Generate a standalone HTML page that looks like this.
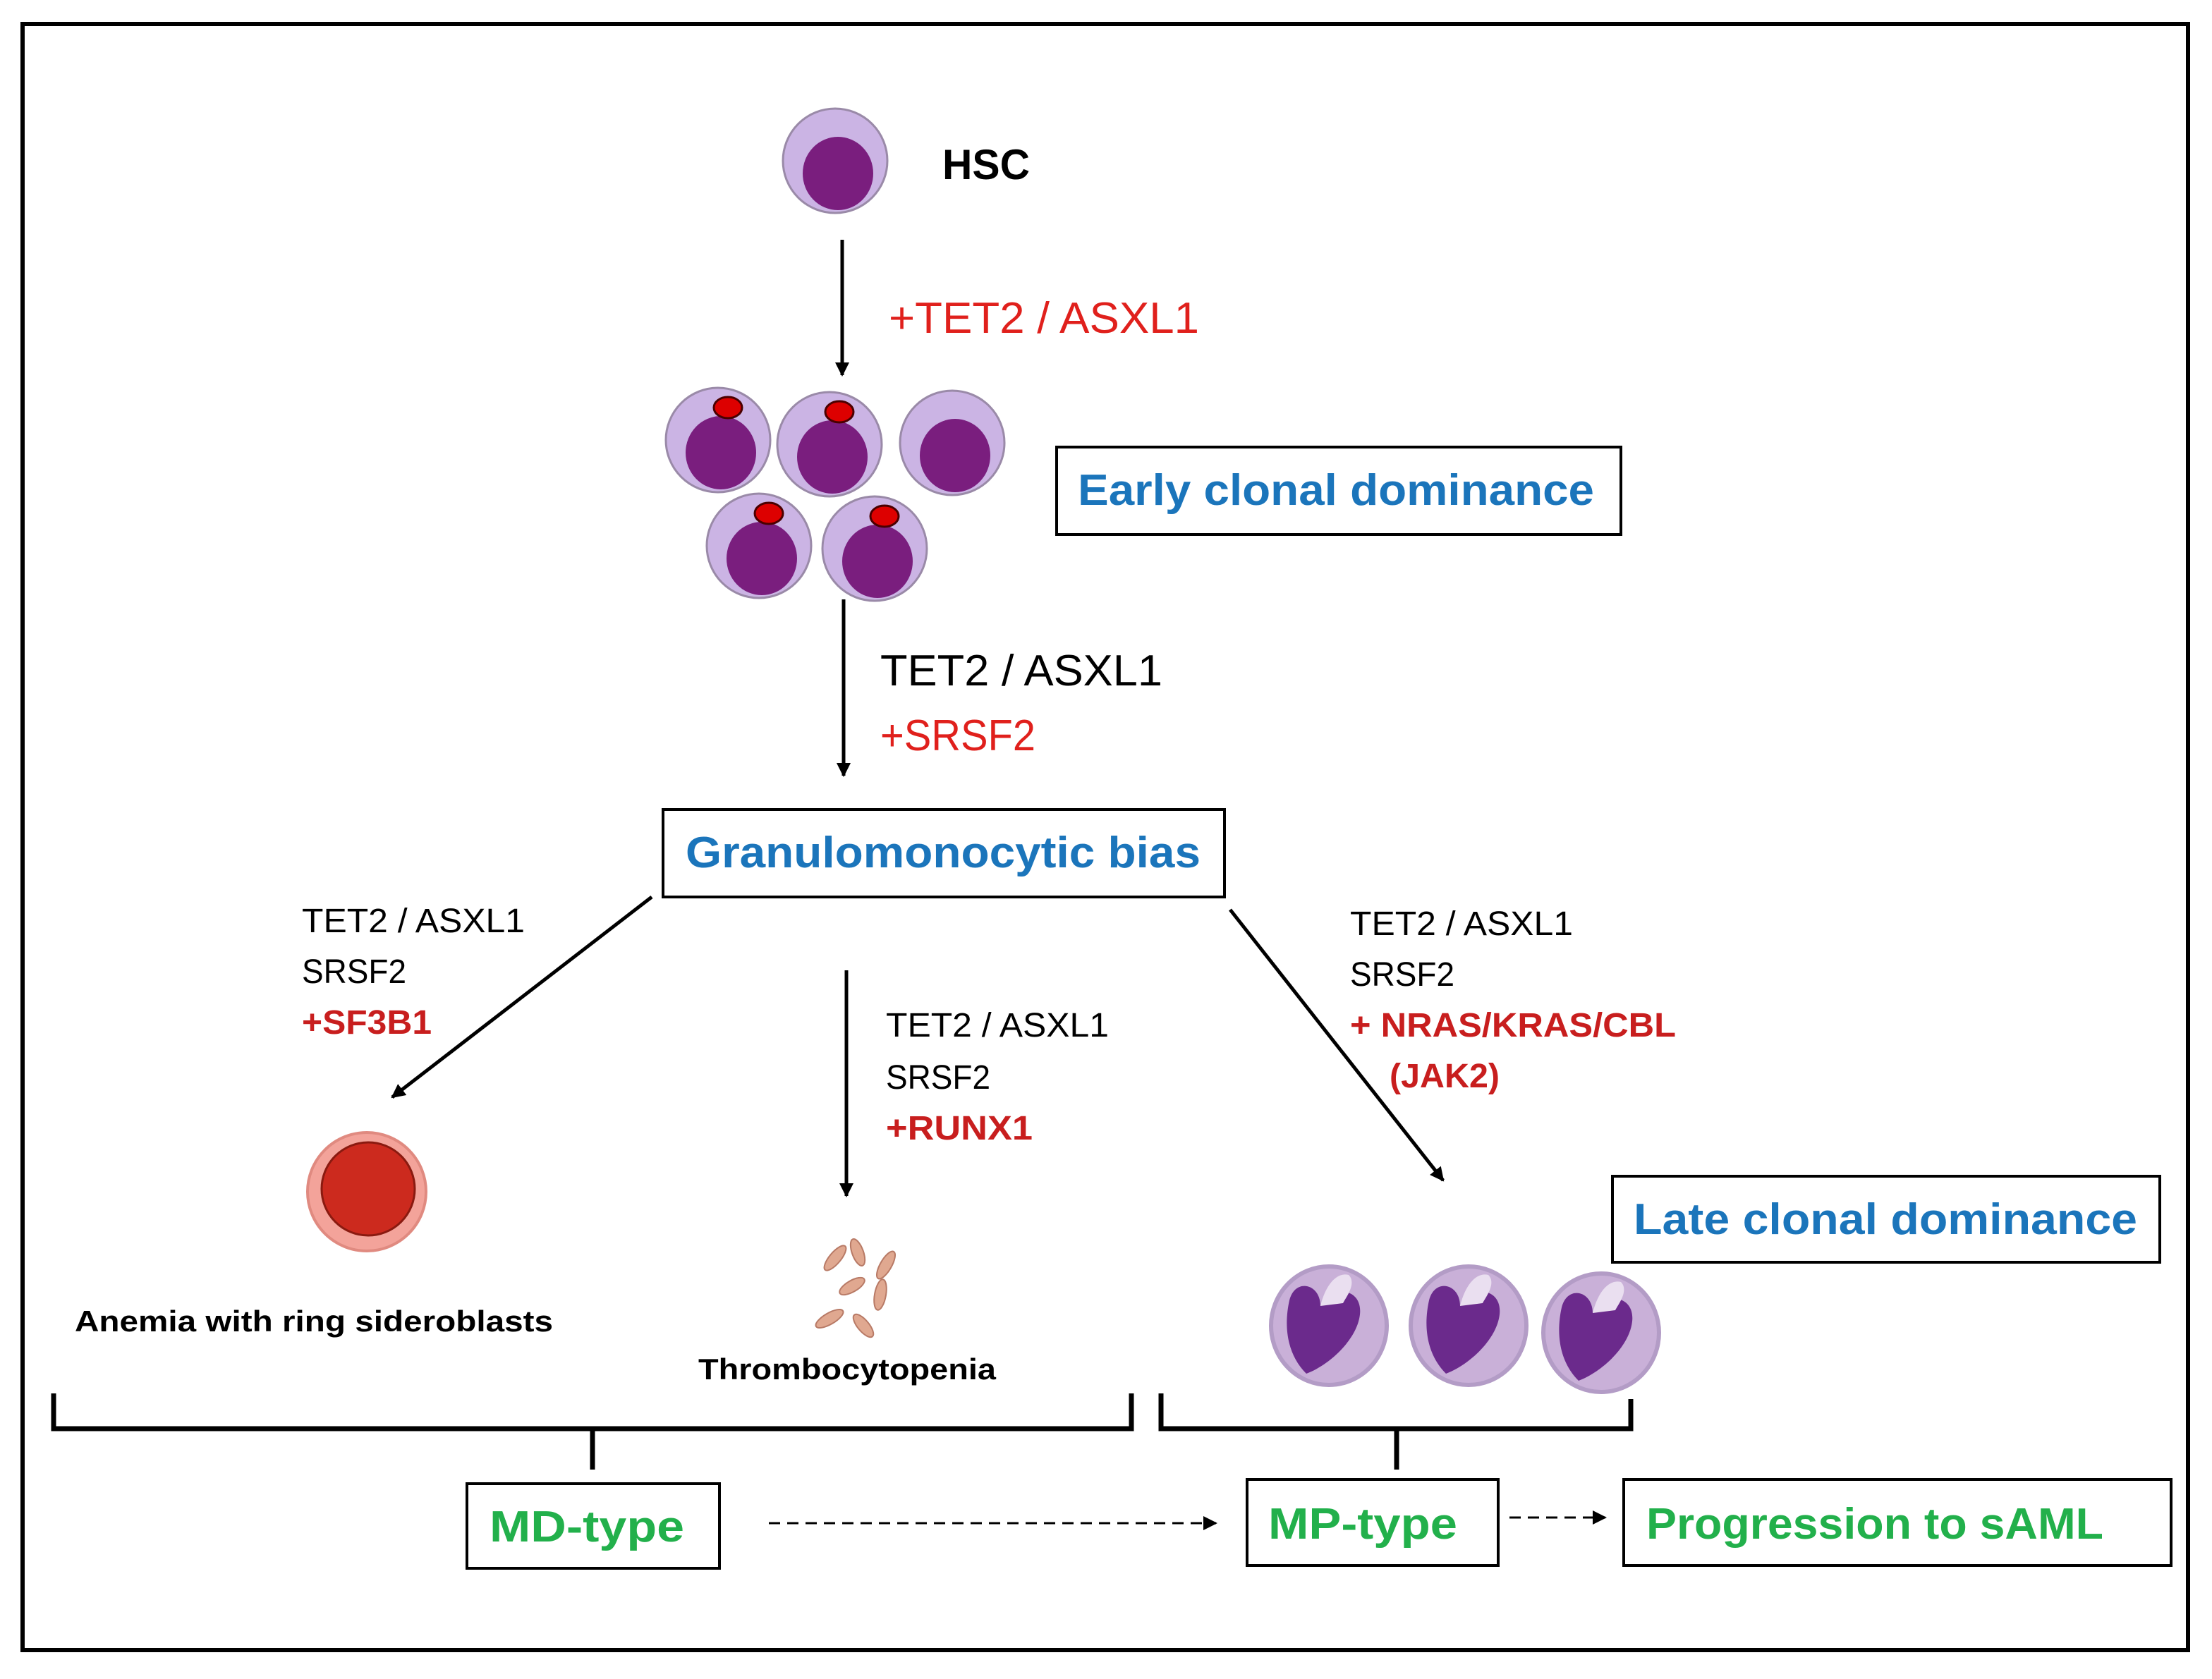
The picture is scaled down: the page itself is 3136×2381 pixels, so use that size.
<!DOCTYPE html>
<html><head><meta charset="utf-8"><style>html,body{margin:0;padding:0;background:#fff}svg{display:block}</style></head>
<body>
<svg width="3136" height="2381" viewBox="0 0 1568 1190.5" xmlns="http://www.w3.org/2000/svg" font-family="Liberation Sans, sans-serif">
<defs>
<marker id="ah" markerWidth="10" markerHeight="10" refX="9" refY="5" orient="auto" markerUnits="userSpaceOnUse"><path d="M0,0 L10,5 L0,10 z" fill="#000"/></marker>
<g id="cell"><circle r="37" fill="#cbb4e4" stroke="#9a8aa8" stroke-width="1.5"/><ellipse cx="2" cy="9" rx="25" ry="26" fill="#7a1e7e"/></g>
<g id="cellr"><use href="#cell"/><ellipse cx="7" cy="-23" rx="10" ry="7.5" fill="#d00" stroke="#4a0000" stroke-width="1.5"/></g>
<g id="neu"><ellipse rx="41" ry="42" fill="#c9b0d8" stroke="#b39cc6" stroke-width="3"/><path d="M-28,-18 C-24,-34 -6,-30 -6,-14 C4,-30 24,-26 22,-8 C20,10 0,28 -16,34 C-30,20 -32,0 -28,-18 z" fill="#6b2a8c"/><path d="M-6,-14 C-2,-30 6,-38 14,-36 C20,-30 12,-20 10,-16 z" fill="#eadff0"/></g>
</defs>
<rect x="16" y="17" width="1535" height="1153" fill="none" stroke="#000" stroke-width="3"/>
<use href="#cell" x="592" y="114"/>
<text x="668" y="127" font-size="30" font-weight="bold" textLength="62" lengthAdjust="spacingAndGlyphs">HSC</text>
<line x1="597" y1="170" x2="597" y2="266" stroke="#000" stroke-width="2.5" marker-end="url(#ah)"/>
<text x="630" y="236" font-size="31" fill="#e0201c" textLength="220" lengthAdjust="spacingAndGlyphs">+TET2 / ASXL1</text>
<use href="#cellr" x="509" y="312"/>
<use href="#cellr" x="588" y="315"/>
<use href="#cell" x="675" y="314"/>
<use href="#cellr" x="538" y="387"/>
<use href="#cellr" x="620" y="389"/>
<rect x="749" y="317" width="400" height="62" fill="none" stroke="#000" stroke-width="2"/>
<text x="764" y="358" font-size="31" font-weight="bold" fill="#1b75bb" textLength="366" lengthAdjust="spacingAndGlyphs">Early clonal dominance</text>
<line x1="598" y1="425" x2="598" y2="550" stroke="#000" stroke-width="2.5" marker-end="url(#ah)"/>
<text x="624" y="486" font-size="31" textLength="200" lengthAdjust="spacingAndGlyphs">TET2 / ASXL1</text>
<text x="624" y="532" font-size="31" fill="#e0201c" textLength="110" lengthAdjust="spacingAndGlyphs">+SRSF2</text>
<rect x="470" y="574" width="398" height="62" fill="none" stroke="#000" stroke-width="2"/>
<text x="486" y="615" font-size="31" font-weight="bold" fill="#1b75bb" textLength="365" lengthAdjust="spacingAndGlyphs">Granulomonocytic bias</text>
<line x1="462" y1="636" x2="278" y2="778" stroke="#000" stroke-width="2.5" marker-end="url(#ah)"/>
<text x="214" y="661" font-size="24" textLength="158" lengthAdjust="spacingAndGlyphs">TET2 / ASXL1</text>
<text x="214" y="697" font-size="24" textLength="74" lengthAdjust="spacingAndGlyphs">SRSF2</text>
<text x="214" y="733" font-size="24" font-weight="bold" fill="#c81e1e" textLength="92" lengthAdjust="spacingAndGlyphs">+SF3B1</text>
<line x1="600" y1="688" x2="600" y2="848" stroke="#000" stroke-width="2.5" marker-end="url(#ah)"/>
<text x="628" y="735" font-size="24" textLength="158" lengthAdjust="spacingAndGlyphs">TET2 / ASXL1</text>
<text x="628" y="772" font-size="24" textLength="74" lengthAdjust="spacingAndGlyphs">SRSF2</text>
<text x="628" y="808" font-size="24" font-weight="bold" fill="#c81e1e" textLength="104" lengthAdjust="spacingAndGlyphs">+RUNX1</text>
<line x1="872" y1="645" x2="1023" y2="837" stroke="#000" stroke-width="2.5" marker-end="url(#ah)"/>
<text x="957" y="663" font-size="24" textLength="158" lengthAdjust="spacingAndGlyphs">TET2 / ASXL1</text>
<text x="957" y="699" font-size="24" textLength="74" lengthAdjust="spacingAndGlyphs">SRSF2</text>
<text x="957" y="735" font-size="24" font-weight="bold" fill="#c81e1e" textLength="231" lengthAdjust="spacingAndGlyphs">+ NRAS/KRAS/CBL</text>
<text x="985" y="771" font-size="24" font-weight="bold" fill="#c81e1e" textLength="78" lengthAdjust="spacingAndGlyphs">(JAK2)</text>
<circle cx="260" cy="845" r="42" fill="#f3a39a" stroke="#e08a80" stroke-width="2"/>
<circle cx="261" cy="843" r="33" fill="#cc2a1e" stroke="#8a1a10" stroke-width="1.5"/>
<text x="53" y="944" font-size="21" font-weight="bold" textLength="339" lengthAdjust="spacingAndGlyphs">Anemia with ring sideroblasts</text>
<g fill="#e0a890" stroke="#b87a66" stroke-width="1">
<ellipse cx="592" cy="892" rx="4" ry="11" transform="rotate(40 592 892)"/>
<ellipse cx="608" cy="888" rx="4" ry="10" transform="rotate(-20 608 888)"/>
<ellipse cx="628" cy="897" rx="4" ry="11" transform="rotate(30 628 897)"/>
<ellipse cx="604" cy="912" rx="4" ry="10" transform="rotate(60 604 912)"/>
<ellipse cx="624" cy="918" rx="4" ry="11" transform="rotate(10 624 918)"/>
<ellipse cx="588" cy="935" rx="4" ry="11" transform="rotate(60 588 935)"/>
<ellipse cx="612" cy="940" rx="4" ry="10" transform="rotate(-40 612 940)"/>
</g>
<text x="495" y="978" font-size="21" font-weight="bold" textLength="211" lengthAdjust="spacingAndGlyphs">Thrombocytopenia</text>
<rect x="1143" y="834" width="388" height="61" fill="none" stroke="#000" stroke-width="2"/>
<text x="1158" y="875" font-size="31" font-weight="bold" fill="#1b75bb" textLength="357" lengthAdjust="spacingAndGlyphs">Late clonal dominance</text>
<use href="#neu" x="942" y="940"/>
<use href="#neu" x="1041" y="940"/>
<use href="#neu" x="1135" y="945"/>
<path d="M38,988 V1013 H802 V988 M420,1013 V1042" fill="none" stroke="#000" stroke-width="3.5"/>
<path d="M823,988 V1013 H1156 V992 M990,1013 V1042" fill="none" stroke="#000" stroke-width="3.5"/>
<rect x="331" y="1052" width="179" height="60" fill="none" stroke="#000" stroke-width="2"/>
<text x="347" y="1093" font-size="31" font-weight="bold" fill="#22b04b" textLength="138" lengthAdjust="spacingAndGlyphs">MD-type</text>
<line x1="545" y1="1080" x2="862" y2="1080" stroke="#000" stroke-width="1.5" stroke-dasharray="8,5" marker-end="url(#ah)"/>
<rect x="884" y="1049" width="178" height="61" fill="none" stroke="#000" stroke-width="2"/>
<text x="899" y="1091" font-size="31" font-weight="bold" fill="#22b04b" textLength="134" lengthAdjust="spacingAndGlyphs">MP-type</text>
<line x1="1070" y1="1076" x2="1138" y2="1076" stroke="#000" stroke-width="1.5" stroke-dasharray="8,5" marker-end="url(#ah)"/>
<rect x="1151" y="1049" width="388" height="61" fill="none" stroke="#000" stroke-width="2"/>
<text x="1167" y="1091" font-size="31" font-weight="bold" fill="#22b04b" textLength="324" lengthAdjust="spacingAndGlyphs">Progression to sAML</text>
</svg>
</body></html>
